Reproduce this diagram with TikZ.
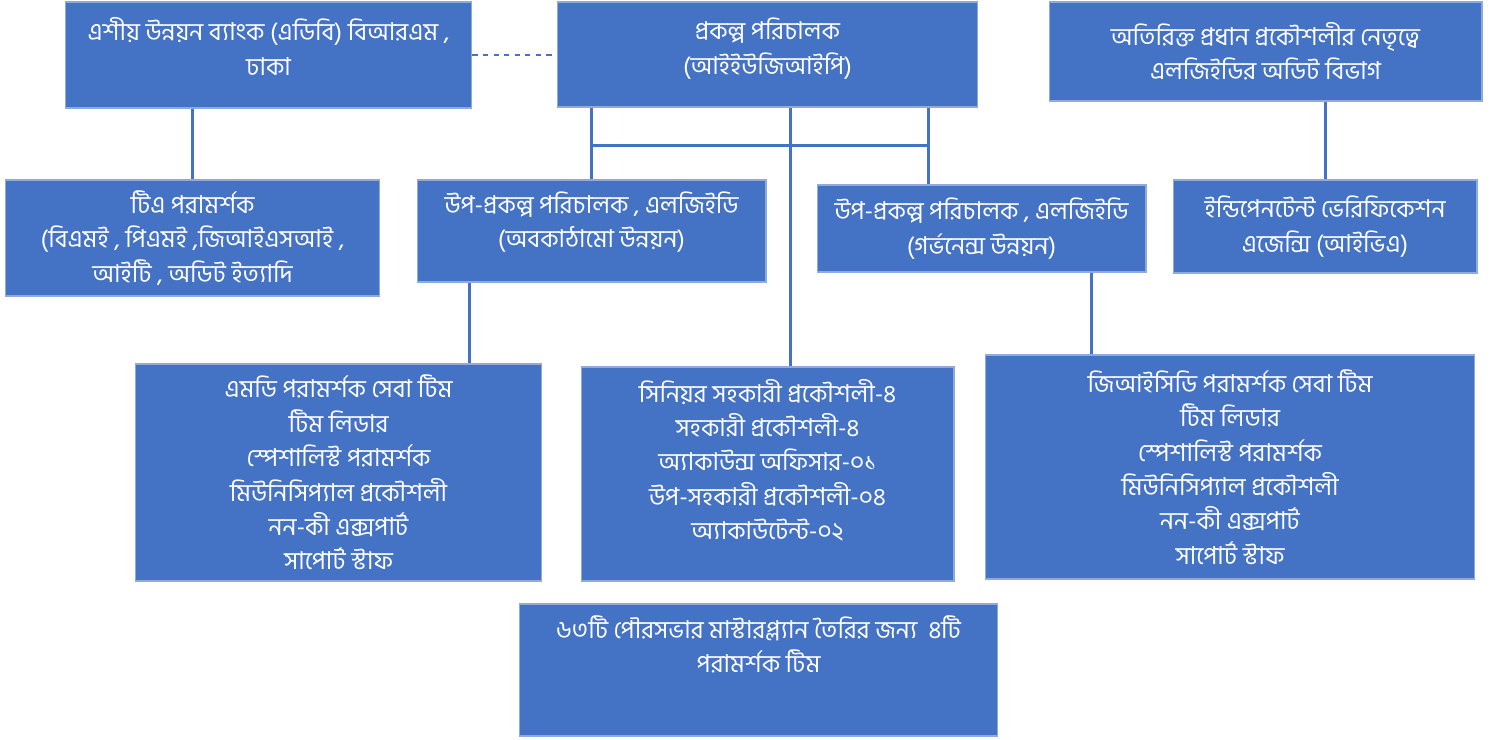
\documentclass[tikz,border=0pt]{standalone}
\usepackage{fontspec}
\setmainfont[Script=Bengali]{Hind Siliguri}
\usetikzlibrary{calc}
\definecolor{boxblue}{HTML}{4472C4}
\definecolor{edgeblue}{HTML}{8FAADC}
\tikzstyle{box} = [rectangle, draw=edgeblue, line width=0.6pt, fill=boxblue, text=white, align=center, inner sep=2pt, font=\fontsize{14pt}{19.6pt}\selectfont]
\tikzstyle{link} = [draw=boxblue, line width=1.7pt]
\tikzstyle{dashlink} = [draw=boxblue, line width=0.6pt, dashed]

\begin{document}
\begin{tikzpicture}[x=0.02cm, y=-0.02cm]
  \useasboundingbox (0,0) rectangle (1497,740);
  % top row
  \node (adb)[box, minimum width=8.14cm, minimum height=2.12cm] at (268.5,55) {এশীয় উন্নয়ন ব্যাংক (এডিবি) বিআরএম ,\\ঢাকা\\[-10pt]\mbox{}};
  \node (pd)[box, minimum width=8.42cm, minimum height=2.1cm] at (767.5,54.5) {প্রকল্প পরিচালক\\(আইইউজিআইপি)\\[-10pt]\mbox{}};
  \node (audit)[box, minimum width=8.66cm, minimum height=1.98cm] at (1265.5,51.5) {অতিরিক্ত প্রধান প্রকৌশলীর নেতৃত্বে\\এলজিইডির অডিট বিভাগ};
  % second row
  \node (ta)[box, minimum width=7.5cm, minimum height=2.32cm] at (192.5,238) {টিএ পরামর্শক\\(বিএমই , পিএমই ,জিআইএসআই ,\\আইটি , অডিট ইত্যাদি};
  \node (infra)[box, minimum width=6.98cm, minimum height=2.04cm] at (591.5,231) {উপ-প্রকল্প পরিচালক , এলজিইডি\\(অবকাঠামো উন্নয়ন)\\[-6.5pt]\mbox{}};
  \node (gov)[box, minimum width=6.58cm, minimum height=1.74cm] at (981.5,228.5) {উপ-প্রকল্প পরিচালক , এলজিইডি\\(গর্ভনেন্স উন্নয়ন)};
  \node (iva)[box, minimum width=6.08cm, minimum height=1.86cm] at (1325,226.5) {ইন্ডিপেনটেন্ট ভেরিফিকেশন\\এজেন্সি (আইভিএ)};
  % third row
  \node (md)[box, minimum width=8.14cm, minimum height=4.34cm] at (338.5,472.5) {এমডি পরামর্শক সেবা টিম\\টিম লিডার\\স্পেশালিস্ট পরামর্শক\\মিউনিসিপ্যাল প্রকৌশলী\\নন-কী এক্সপার্ট\\সাপোর্ট স্টাফ};
  \node (senior)[box, minimum width=7.46cm, minimum height=4.28cm] at (767.5,474) {সিনিয়র সহকারী প্রকৌশলী-৪\\সহকারী প্রকৌশলী-৪\\অ্যাকাউন্স অফিসার-০১\\উপ-সহকারী প্রকৌশলী-০৪\\অ্যাকাউটেন্ট-০২\\[-3pt]\mbox{}};
  \node (gis)[box, minimum width=9.8cm, minimum height=4.48cm] at (1230,467) {জিআইসিডি পরামর্শক সেবা টিম\\টিম লিডার\\স্পেশালিস্ট পরামর্শক\\মিউনিসিপ্যাল প্রকৌশলী\\নন-কী এক্সপার্ট\\সাপোর্ট স্টাফ};
  \node (master)[box, minimum width=9.58cm, minimum height=2.64cm] at (758.5,670) {৬৩টি পৌরসভার মাস্টারপ্ল্যান তৈরির জন্য~ ৪টি\\পরামর্শক টিম\\[10pt]\mbox{}};
  % connectors
  \coordinate (govin) at ($(gov.north)+(-53.5,0)$);
  \coordinate (bus) at ($(pd.south)+(0,38)$);
  \coordinate (mdin) at ($(infra.south west)+(53,0)$);
  \coordinate (gisin) at ($(gov.south east)+(-55,0)$);
  \draw [dashlink] (adb.east) -- (adb.east -| pd.west);
  \draw [link] (adb.south -| ta.north) -- (ta.north);
  \draw [link] (pd.south -| infra.north) -- (infra.north);
  \draw [link] (pd.south -| govin) -- (govin);
  \draw [link] (bus -| infra.north) -- (bus -| govin);
  \draw [link] ([xshift=0.45cm]pd.south) -- ([xshift=0.45cm]pd.south |- senior.north);
  \draw [link] (mdin) -- (mdin |- md.north);
  \draw [link] (gisin) -- (gisin |- gis.north);
  \draw [link] (audit.south -| iva.north) -- (iva.north);
\end{tikzpicture}
\end{document}
